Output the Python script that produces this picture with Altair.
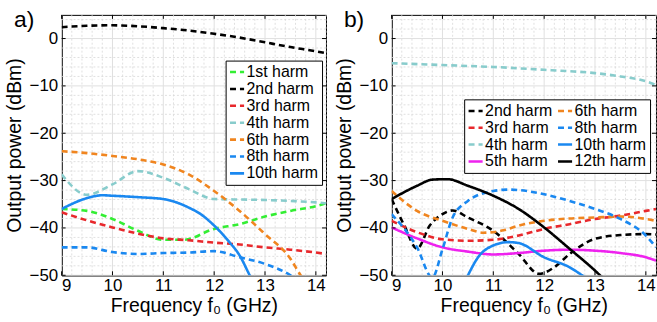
import altair as alt
import pandas as pd

# ---------------- data ----------------
# panel a)
a1_f = [9, 9.5, 10, 10.5, 11, 11.4, 12, 12.5, 13, 13.5, 14, 14.2]
a1_p = [-36, -36.4, -38.1, -40.6, -42.5, -42.5, -40.2, -39.2, -37.6, -36.4, -35.4, -34.8]
a2_f = [9, 9.5, 10, 10.5, 11, 11.5, 12, 12.5, 13, 13.5, 14, 14.2]
a2_p = [2.4, 2.7, 2.8, 2.6, 2.2, 1.7, 1.0, 0.2, -0.8, -1.8, -2.7, -3.1]
a3_f = [9, 9.5, 10, 10.5, 11, 11.5, 12, 12.5, 13, 13.5, 14, 14.2]
a3_p = [-36.7, -38.4, -39.9, -41.2, -42.2, -42.6, -43.1, -43.5, -44.1, -44.6, -45.2, -45.5]
a4_f = [9, 9.5, 10, 10.5, 11, 11.5, 12, 12.5, 13, 13.5, 14, 14.2]
a4_p = [-28.7, -33.0, -30.8, -28.0, -29.4, -31.8, -33.9, -34.0, -34.1, -34.3, -34.6, -34.8]
a6_f = [9, 9.5, 10, 10.5, 11, 11.5, 12, 12.5, 13, 13.5, 13.7, 13.9]
a6_p = [-23.8, -24.2, -24.8, -25.5, -26.6, -28.7, -32.2, -36.4, -41.3, -46.5, -50, -53]
a8_f = [9, 9.5, 10, 10.5, 11, 11.5, 12, 12.5, 13, 13.5, 13.7]
a8_p = [-44.1, -44.1, -45.1, -45.5, -45.3, -45.2, -44.9, -46.2, -47.6, -50, -51.5]
a10_f = [9, 9.5, 9.8, 10, 10.5, 11, 11.5, 11.75, 12, 12.3, 12.5, 12.7, 12.8]
a10_p = [-36, -33.7, -33.1, -33.2, -33.5, -33.9, -35.7, -37.2, -39.5, -43, -45.8, -50, -52]

# panel b)
b2_f = [9, 9.25, 9.5, 9.75, 10, 10.2, 10.5, 11, 11.5, 11.9, 12.2, 12.5, 13, 13.5, 14, 14.2]
b2_p = [-33.9, -39.5, -44.4, -39.5, -37.1, -36.3, -37.8, -40.6, -45.5, -49.7, -48.3, -45.5, -42.3, -41.5, -41.3, -41.4]
b3_f = [9, 9.5, 10, 10.5, 11, 11.5, 12, 12.5, 13, 13.5, 14, 14.2]
b3_p = [-38.5, -40.9, -42.4, -42.7, -42.5, -41.6, -40.2, -39.2, -38.1, -37.4, -36.4, -36]
b4_f = [9, 10, 11, 12, 12.5, 13, 13.5, 14, 14.2]
b4_p = [-5.2, -5.6, -6.0, -6.6, -6.9, -7.3, -8.0, -9.0, -9.8]
b5_f = [9, 9.5, 10, 10.5, 11, 11.5, 12, 12.5, 13, 13.5, 14, 14.2]
b5_p = [-39.9, -42.2, -44.1, -45.0, -45.6, -45.3, -44.8, -44.6, -44.8, -45.3, -46.2, -46.9]
b6_f = [9, 9.5, 10, 10.5, 10.8, 11.2, 11.5, 12, 12.5, 13, 13.5, 14, 14.2]
b6_p = [-32.2, -36.4, -38.5, -40.2, -41, -40.5, -39.5, -38.5, -38, -37.8, -37.6, -38.1, -38.5]
b8_f = [9, 9.5, 9.8, 10.0, 10.2, 10.5, 11, 11.3, 11.5, 12, 12.5, 13, 13.5, 14, 14.2]
b8_p = [-37.1, -44.1, -50.5, -44.5, -37.8, -34.3, -32.2, -31.9, -32, -32.9, -34.3, -36, -38.1, -41.6, -44.1]
b10_f = [10.45, 10.5, 10.7, 11, 11.3, 11.5, 12, 12.5, 12.75, 12.9]
b10_p = [-51, -50, -46.2, -43.7, -43, -43.2, -46.2, -48.3, -50, -51]
b12_f = [9, 9.5, 9.8, 10.1, 10.5, 11, 11.5, 12, 12.5, 13, 13.1, 13.3]
b12_p = [-33.9, -31.1, -29.8, -29.7, -31.1, -33.2, -36, -39.9, -44.4, -49, -50, -51.5]

# legend order, colours, dash patterns
a_names = ["1st harm", "2nd harm", "3rd harm", "4th harm", "6th harm", "8th harm", "10th harm"]
a_colors = ["#33ee33", "#000000", "#e8282c", "#88cccc", "#f0851f", "#1a88f0", "#1a88f0"]
a_dashes = [[6, 4], [6, 4], [6, 4], [6, 4], [6, 4], [6, 4], [1, 0]]

# legend fills column by column: left column first, then right column
b_names = ["2nd harm", "3rd harm", "4th harm", "5th harm", "6th harm", "8th harm", "10th harm", "12th harm"]
b_colors = ["#000000", "#e8282c", "#88cccc", "#ee22ee", "#f0851f", "#1a88f0", "#1a88f0", "#000000"]
b_dashes = [[6, 4], [6, 4], [6, 4], [1, 0], [6, 4], [6, 4], [1, 0], [1, 0]]

x_ticks = [9, 10, 11, 12, 13, 14]
y_ticks = [-50, -40, -30, -20, -10, 0]
x_minor = [9.2, 9.4, 9.6, 9.8, 10.2, 10.4, 10.6, 10.8, 11.2, 11.4, 11.6, 11.8,
           12.2, 12.4, 12.6, 12.8, 13.2, 13.4, 13.6, 13.8, 14.2]
y_minor = [-48, -46, -44, -42, -38, -36, -34, -32, -28, -26, -24, -22,
           -18, -16, -14, -12, -8, -6, -4, -2, 2, 4]

X_DOMAIN = [9, 14.2]
Y_DOMAIN = [-50, 5]
W, H = 266, 262


def build_df(series):
    rows = []
    for name, fs, ps in series:
        for f, p in zip(fs, ps):
            rows.append({"name": name, "f": f, "p": p})
    return pd.DataFrame(rows)


a_df = build_df([
    ("1st harm", a1_f, a1_p), ("2nd harm", a2_f, a2_p), ("3rd harm", a3_f, a3_p),
    ("4th harm", a4_f, a4_p), ("6th harm", a6_f, a6_p), ("8th harm", a8_f, a8_p),
    ("10th harm", a10_f, a10_p),
])
b_df = build_df([
    ("2nd harm", b2_f, b2_p), ("3rd harm", b3_f, b3_p), ("4th harm", b4_f, b4_p),
    ("5th harm", b5_f, b5_p), ("6th harm", b6_f, b6_p), ("8th harm", b8_f, b8_p),
    ("10th harm", b10_f, b10_p), ("12th harm", b12_f, b12_p),
])

FONT = "Liberation Sans"


def panel(df, names, colors, dashes, label, leg_x, leg_y, leg_cols):
    xs = alt.Scale(domain=X_DOMAIN, nice=False, zero=False)
    ys = alt.Scale(domain=Y_DOMAIN, nice=False, zero=False)
    xa = alt.Axis(values=x_ticks, title="Frequency f₀ (GHz)", grid=False,
                  ticks=False, labelPadding=2, titlePadding=3)
    ya = alt.Axis(values=y_ticks, title="Output power (dBm)", grid=False,
                  ticks=False, labelPadding=4, titlePadding=5)

    def X(field):
        return alt.X(field, scale=xs, axis=xa)

    def Y(field):
        return alt.Y(field, scale=ys, axis=ya)

    gx_minor = alt.Chart(pd.DataFrame({"v": x_minor})).mark_rule(
        color="#d8d8d8", strokeDash=[2, 2], strokeWidth=0.8
    ).encode(x=X("v:Q"))
    gy_minor = alt.Chart(pd.DataFrame({"v": y_minor})).mark_rule(
        color="#d8d8d8", strokeDash=[2, 2], strokeWidth=0.8
    ).encode(y=Y("v:Q"))
    gx_major = alt.Chart(pd.DataFrame({"v": x_ticks})).mark_rule(
        color="#e0e0e0", strokeWidth=1
    ).encode(x=X("v:Q"))
    gy_major = alt.Chart(pd.DataFrame({"v": y_ticks})).mark_rule(
        color="#e0e0e0", strokeWidth=1
    ).encode(y=Y("v:Q"))

    leg = alt.Legend(title=None, orient="none", legendX=leg_x, legendY=leg_y, columns=leg_cols)
    lines = alt.Chart(df).mark_line(
        clip=True, strokeWidth=2.6, interpolate="monotone"
    ).encode(
        x=X("f:Q"),
        y=Y("p:Q"),
        color=alt.Color("name:N", scale=alt.Scale(domain=names, range=colors), legend=leg),
        strokeDash=alt.StrokeDash("name:N", scale=alt.Scale(domain=names, range=dashes), legend=leg),
        detail="name:N",
    )

    tick_x = pd.DataFrame({"v": x_ticks})
    tick_y = pd.DataFrame({"v": y_ticks})
    t_bottom = alt.Chart(tick_x).mark_rule(color="black").encode(
        x=X("v:Q"), y=alt.value(H), y2=alt.value(H - 4))
    t_top = alt.Chart(tick_x).mark_rule(color="black").encode(
        x=X("v:Q"), y=alt.value(0), y2=alt.value(4))
    t_left = alt.Chart(tick_y).mark_rule(color="black").encode(
        y=Y("v:Q"), x=alt.value(0), x2=alt.value(4))
    t_right = alt.Chart(tick_y).mark_rule(color="black").encode(
        y=Y("v:Q"), x=alt.value(W), x2=alt.value(W - 4))

    lab = alt.Chart(pd.DataFrame({"t": [label]})).mark_text(
        align="left", baseline="alphabetic", fontSize=23, font=FONT, color="black"
    ).encode(text="t:N", x=alt.value(-48), y=alt.value(12))

    return alt.layer(gx_minor, gy_minor, gx_major, gy_major, lines,
                     t_bottom, t_top, t_left, t_right, lab).properties(width=W, height=H)


pa = panel(a_df, a_names, a_colors, a_dashes, "a)", 165, 46, 1)
pb = panel(b_df, b_names, b_colors, b_dashes, "b)", 73, 85, 2)

chart = alt.hconcat(pa, pb, spacing=6).resolve_scale(
    color="independent", strokeDash="independent", x="independent", y="independent"
).configure(
    padding={"left": 3, "top": 7, "right": 0, "bottom": 0},
    font=FONT,
).configure_view(
    stroke="black", strokeWidth=1
).configure_axis(
    labelFontSize=17, titleFontSize=19.5, labelFont=FONT, titleFont=FONT,
    labelColor="black", titleColor="black", titleFontWeight="normal",
    domainColor="black", domainWidth=1,
).configure_legend(
    strokeColor="black", fillColor="white", padding=3, labelFontSize=16,
    labelFont=FONT, labelColor="black", symbolType="stroke", symbolSize=200,
    symbolStrokeWidth=2.6, rowPadding=0, labelOffset=1, columnPadding=0,
    cornerRadius=0, offset=0,
)

chart.save("out.html", embed_options={"renderer": "svg", "actions": False})
